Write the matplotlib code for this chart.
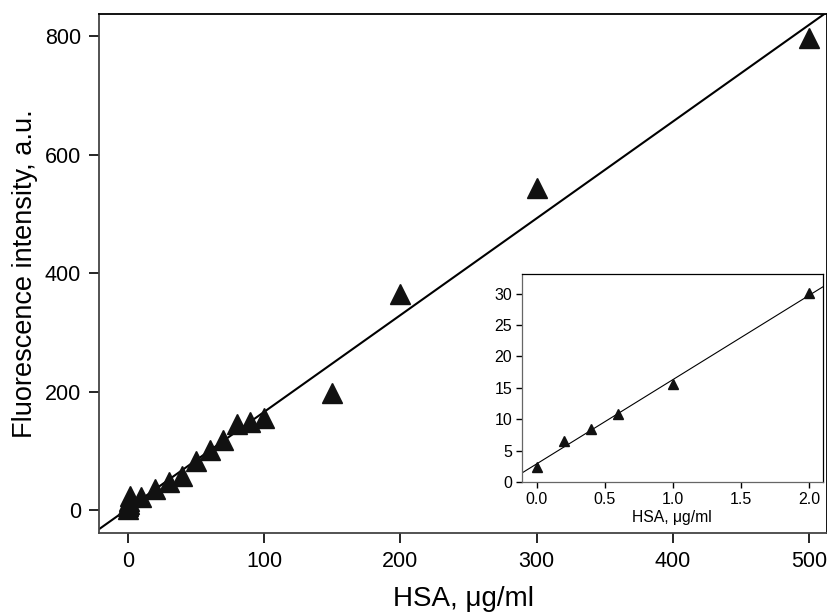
import numpy as np
import matplotlib
matplotlib.use('Agg')
import matplotlib.pyplot as plt

plt.rcParams.update({
    'font.family': ['Liberation Sans', 'DejaVu Sans'],
    'xtick.direction': 'out',
    'ytick.direction': 'out',
})

# Main calibration data
hsa = [0, 0.2, 0.4, 0.6, 1, 2, 10, 20, 30, 40, 50, 60, 70, 80, 90, 100, 150, 200, 300, 500]
fluo = [2.5, 6.6, 8.5, 10.9, 15.6, 24, 22, 36, 47, 58, 83, 101, 119, 145, 148, 156, 197, 364, 544, 797]
fit_main = (1.634, 2.2)   # slope, intercept

# Inset (low range)
hsa_low = [0, 0.2, 0.4, 0.6, 1.0, 2.0]
fluo_low = [2.5, 6.6, 8.5, 10.9, 15.6, 30.1]
fit_low = (13.39, 2.94)

fig = plt.figure(figsize=(8.27, 6.15), dpi=100)
ax = fig.add_axes([0.120, 0.133, 0.880, 0.845])

xl = np.array([-30, 530])
ax.plot(xl, fit_main[0] * xl + fit_main[1], color='black', lw=1.5, zorder=2)
ax.plot(hsa, fluo, linestyle='none', marker='^', ms=14.5, color='#111111', zorder=3)
ax.set_xlim(-20.9, 513)
ax.set_ylim(-39, 838)
ax.set_xticks([0, 100, 200, 300, 400, 500])
ax.set_yticks([0, 200, 400, 600, 800])
ax.tick_params(labelsize=15.5, length=7, width=1.2, pad=6)
for s in ax.spines.values():
    s.set_linewidth(1.3)
ax.spines['left'].set_color('#444444')
ax.spines['bottom'].set_color('#444444')
ax.set_xlabel('HSA, μg/ml', fontsize=20, labelpad=10)
ax.set_ylabel('Fluorescence intensity, a.u.', fontsize=19.5, labelpad=5)

# Inset
ins = fig.add_axes([0.631, 0.2155, 0.364, 0.339])
xs = np.array([-0.5, 2.5])
ins.plot(xs, fit_low[0] * xs + fit_low[1], color='black', lw=0.8, zorder=2)
ins.plot(hsa_low, fluo_low, linestyle='none', marker='^', ms=7, color='#111111', zorder=3)
ins.set_xlim(-0.108, 2.1)
ins.set_ylim(0, 33.1)
ins.set_xticks([0.0, 0.5, 1.0, 1.5, 2.0])
ins.set_xticklabels(['0.0', '0.5', '1.0', '1.5', '2.0'])
ins.set_yticks([0, 5, 10, 15, 20, 25, 30])
ins.tick_params(labelsize=11.5, length=4, width=1, pad=3)
for s in ins.spines.values():
    s.set_linewidth(0.9)
ins.spines['left'].set_color('#666666')
ins.spines['bottom'].set_color('#666666')
ins.set_xlabel('HSA, μg/ml', fontsize=11.3, labelpad=2)

fig.savefig('out.png', dpi=100)
